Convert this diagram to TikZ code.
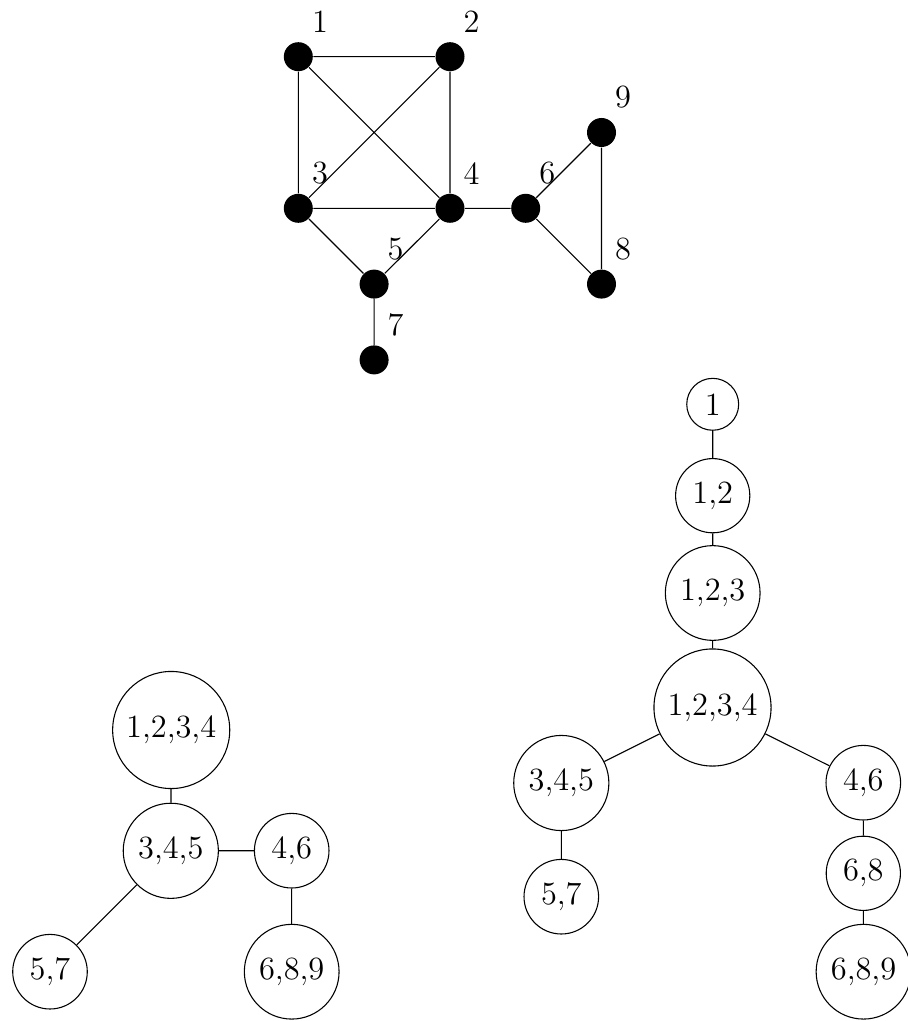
\documentclass[tikz,border=0pt]{standalone}
\begin{document}
\begin{tikzpicture}[x=0.37037pt,y=-0.37037pt,
  vert/.style={circle,fill=black,inner sep=0pt,minimum size=10.74pt},
  vlab/.style={inner sep=0pt,font=\large},
  bag/.style={circle,draw,font=\large}]
\useasboundingbox (0,0) rectangle (907,1021);
% graph
\node[vert] (v1) at (298.3,56.7) {};
\node[vert] (v2) at (450,56.7) {};
\node[vert] (v3) at (298.3,208.3) {};
\node[vert] (v4) at (450,208.3) {};
\node[vert] (v5) at (374.1,284.1) {};
\node[vert] (v6) at (525.7,208.3) {};
\node[vert] (v7) at (374.1,359.9) {};
\node[vert] (v8) at (601.5,284.1) {};
\node[vert] (v9) at (601.5,132.5) {};
\node[vlab] (l1) at (320,21.7) {1};
\node[vlab] (l2) at (471.5,21.7) {2};
\node[vlab] (l3) at (320,173.3) {3};
\node[vlab] (l4) at (471.5,173.3) {4};
\node[vlab] (l5) at (395.6,249.1) {5};
\node[vlab] (l6) at (547.2,173.3) {6};
\node[vlab] (l7) at (395.6,324.9) {7};
\node[vlab] (l8) at (623,249.1) {8};
\node[vlab] (l9) at (623,97.5) {9};
\draw (v1) -- (v2) (v1) -- (v3) (v1) -- (v4) (v2) -- (v3) (v2) -- (v4)
      (v3) -- (v4) (v3) -- (v5) (v4) -- (v5) (v4) -- (v6) (v5) -- (v7)
      (v6) -- (v9) (v6) -- (v8) (v9) -- (v8);
% right tree
\node[bag] (b1) at (712.7,404.3) {1};
\node[bag] (b12) at (712.7,495.7) {1,2};
\node[bag] (b123) at (712.7,593) {1,2,3};
\node[bag] (b1234) at (712.5,707.5) {1,2,3,4};
\node[bag] (b345) at (561.3,783) {3,4,5};
\node[bag] (b46) at (863.3,782.7) {4,6};
\node[bag] (b57) at (561.3,896.7) {5,7};
\node[bag] (b68) at (863.3,873.3) {6,8};
\node[bag] (b689) at (863.5,971.7) {6,8,9};
\draw (b1) -- (b12) (b12) -- (b123) (b123) -- (b1234) (b1234) -- (b345)
      (b1234) -- (b46) (b345) -- (b57) (b46) -- (b68) (b68) -- (b689);
% left tree
\node[bag] (a1234) at (171.2,730) {1,2,3,4};
\node[bag] (a345) at (170.8,850.8) {3,4,5};
\node[bag] (a46) at (291.7,850.7) {4,6};
\node[bag] (a57) at (50,971.7) {5,7};
\node[bag] (a689) at (291.7,971.7) {6,8,9};
\draw (a1234) -- (a345) (a345) -- (a46) (a345) -- (a57) (a46) -- (a689);
\end{tikzpicture}
\end{document}
